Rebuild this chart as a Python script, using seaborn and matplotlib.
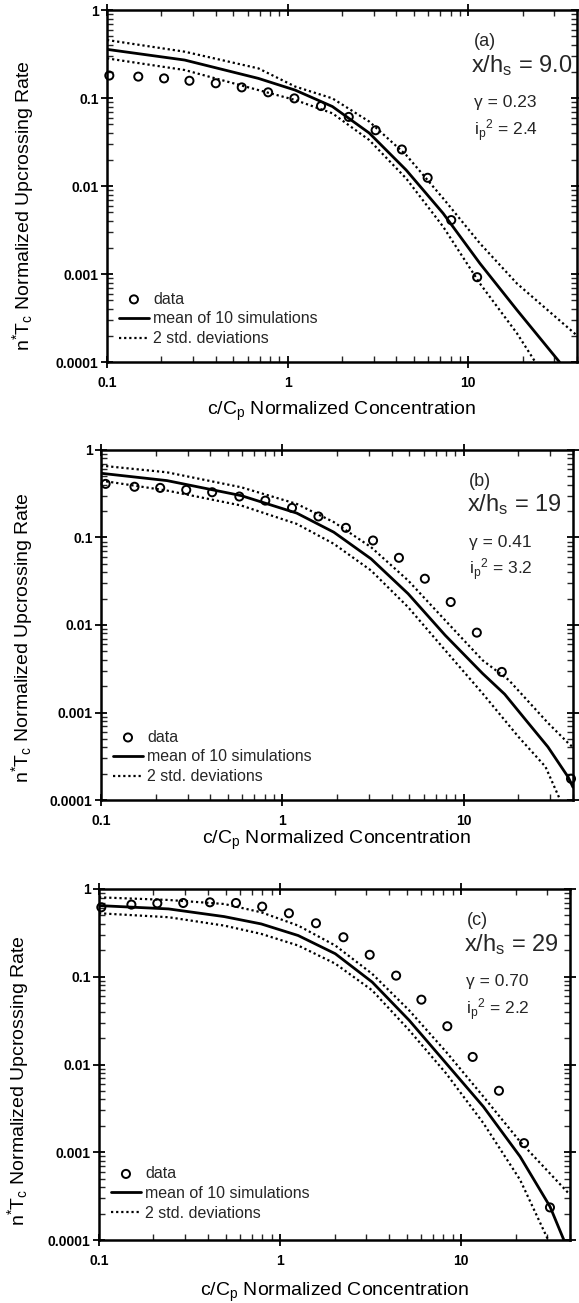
import numpy as np
import pandas as pd
import matplotlib
matplotlib.use("Agg")
import matplotlib.pyplot as plt
import matplotlib.ticker as mticker
import seaborn as sns

sns.set_theme(style="ticks")
plt.rcParams['font.family'] = ['Liberation Sans', 'DejaVu Sans']
plt.rcParams['mathtext.fontset'] = 'custom'
plt.rcParams['mathtext.rm'] = 'Liberation Sans'
plt.rcParams['mathtext.it'] = 'Liberation Sans:italic'
plt.rcParams['mathtext.bf'] = 'Liberation Sans:bold'

# ---------------- data ----------------
# panel (a)
a_data_x = [0.103, 0.149, 0.207, 0.286, 0.40, 0.557, 0.78, 1.09, 1.53, 2.18, 3.07, 4.29, 5.96, 8.05, 11.2]
a_data_y = [0.18, 0.175, 0.167, 0.157, 0.147, 0.132, 0.116, 0.099, 0.081, 0.061, 0.043, 0.026, 0.0124, 0.0041, 0.00092]
a_mean_x = [0.1, 0.269, 0.689, 1.10, 1.77, 2.83, 4.53, 7.26, 11.6, 18.6, 32]
a_mean_y = [0.357, 0.27, 0.167, 0.123, 0.080, 0.040, 0.0152, 0.00489, 0.00132, 0.00039, 0.0001]
a_up_x = [0.1, 0.269, 0.689, 1.10, 1.77, 2.83, 4.53, 7.26, 11.6, 18.6, 40]
a_up_y = [0.456, 0.336, 0.217, 0.135, 0.099, 0.054, 0.0225, 0.00724, 0.00223, 0.00078, 0.0002]
a_lo_x = [0.1, 0.269, 0.689, 1.10, 1.77, 2.83, 4.53, 7.26, 11.6, 18.6, 23.5]
a_lo_y = [0.282, 0.208, 0.123, 0.095, 0.067, 0.0333, 0.0122, 0.00345, 0.00078, 0.000212, 0.0001]

# panel (b)
b_data_x = [0.106, 0.153, 0.212, 0.295, 0.41, 0.579, 0.805, 1.13, 1.58, 2.24, 3.16, 4.39, 6.10, 8.47, 11.8, 16.2, 39]
b_data_y = [0.41, 0.38, 0.369, 0.35, 0.329, 0.294, 0.264, 0.218, 0.174, 0.129, 0.0924, 0.0586, 0.0338, 0.0183, 0.00818, 0.00291, 0.000175]
b_mean_x = [0.1, 0.231, 0.593, 1.20, 1.92, 3.08, 4.93, 7.90, 12.7, 16.8, 22.3, 29.1, 37.6, 40]
b_mean_y = [0.542, 0.447, 0.301, 0.19, 0.115, 0.0571, 0.0228, 0.00762, 0.00279, 0.00162, 0.00079, 0.000404, 0.000183, 0.00014]
b_up_x = [0.1, 0.231, 0.593, 1.20, 1.92, 3.08, 4.93, 7.90, 12.7, 17.7, 29.1, 37.6, 40]
b_up_y = [0.663, 0.556, 0.375, 0.242, 0.15, 0.0776, 0.0323, 0.0113, 0.00395, 0.00235, 0.00076, 0.000448, 0.0004]
b_lo_x = [0.1, 0.231, 0.593, 1.20, 1.92, 3.08, 4.93, 7.90, 12.7, 20.0, 28.2, 34.0]
b_lo_y = [0.447, 0.344, 0.232, 0.143, 0.0847, 0.042, 0.016, 0.00514, 0.00165, 0.000528, 0.00024, 0.0001]

# panel (c)
c_data_x = [0.103, 0.151, 0.21, 0.292, 0.41, 0.571, 0.797, 1.12, 1.58, 2.24, 3.13, 4.38, 6.04, 8.40, 11.6, 16.2, 22.3, 31]
c_data_y = [0.619, 0.664, 0.687, 0.693, 0.705, 0.693, 0.63, 0.529, 0.407, 0.282, 0.178, 0.103, 0.0548, 0.0273, 0.0122, 0.00502, 0.00127, 0.000235]
c_mean_x = [0.1, 0.242, 0.491, 0.787, 1.26, 2.02, 3.23, 5.17, 8.28, 13.3, 21.2, 31, 37]
c_mean_y = [0.647, 0.593, 0.485, 0.40, 0.295, 0.183, 0.087, 0.0319, 0.0103, 0.0033, 0.000893, 0.000241, 0.0001]
c_up_x = [0.1, 0.242, 0.491, 0.787, 1.26, 2.02, 3.23, 5.17, 8.28, 13.3, 21.2, 39.2]
c_up_y = [0.804, 0.75, 0.675, 0.543, 0.383, 0.227, 0.108, 0.0414, 0.0139, 0.0043, 0.00132, 0.000342]
c_lo_x = [0.1, 0.242, 0.491, 0.787, 1.26, 2.02, 3.23, 5.17, 8.28, 13.3, 21.2, 30.3]
c_lo_y = [0.529, 0.477, 0.383, 0.308, 0.227, 0.141, 0.07, 0.0246, 0.0079, 0.00214, 0.000485, 0.0001]

panel_tags = ["(a)", "(b)", "(c)"]
panel_xh = ["x/h$_\\mathrm{s}$ = 9.0", "x/h$_\\mathrm{s}$ = 19", "x/h$_\\mathrm{s}$ = 29"]
panel_gamma = ["\u03b3 = 0.23", "\u03b3 = 0.41", "\u03b3 = 0.70"]
panel_ip = ["i$_\\mathrm{p}$$^\\mathrm{2}$ = 2.4", "i$_\\mathrm{p}$$^\\mathrm{2}$ = 3.2", "i$_\\mathrm{p}$$^\\mathrm{2}$ = 2.2"]

x_ticks = [0.1, 1, 10]
x_tick_labels = ["0.1", "1", "10"]
y_ticks = [0.0001, 0.001, 0.01, 0.1, 1]
y_tick_labels = ["0.0001", "0.001", "0.01", "0.1", "1"]

legend_labels = ["data", "mean of 10 simulations", "2 std. deviations"]
x_label = "c/C$_\\mathrm{p}$ Normalized Concentration"
y_label = "n$^{*}$T$_\\mathrm{c}$ Normalized Upcrossing Rate"

panels = [
    (a_data_x, a_data_y, a_mean_x, a_mean_y, a_up_x, a_up_y, a_lo_x, a_lo_y),
    (b_data_x, b_data_y, b_mean_x, b_mean_y, b_up_x, b_up_y, b_lo_x, b_lo_y),
    (c_data_x, c_data_y, c_mean_x, c_mean_y, c_up_x, c_up_y, c_lo_x, c_lo_y),
]

# ---------------- layout ----------------
W, H = 579, 1303
fig = plt.figure(figsize=(W / 100, H / 100), dpi=100)
boxes = [(107, 10, 470, 352), (101, 450, 472, 350), (99, 889, 471, 351)]  # left, top, w, h px
ylab_x = [-0.150, -0.140, -0.145]
ylab_y = [0.445, 0.465, 0.455]
xlab_pad = [7, 1, 9]
leg_y = [0.045, 0.045, 0.055]

dot_style = (0, (1.0, 1.3))

for i, (dx, dy, mx, my, ux, uy, lx, ly) in enumerate(panels):
    l, t, w, h = boxes[i]
    ax = fig.add_axes([l / W, 1 - (t + h) / H, w / W, h / H])
    ax.set_xscale('log')
    ax.set_yscale('log')

    sns.lineplot(x=mx, y=my, ax=ax, color='black', lw=2.0, label=legend_labels[1])
    sns.lineplot(x=ux, y=uy, ax=ax, color='black', lw=1.6, linestyle=dot_style, label=legend_labels[2])
    sns.lineplot(x=lx, y=ly, ax=ax, color='black', lw=1.6, linestyle=dot_style, label='_nolegend_')
    sns.scatterplot(x=dx, y=dy, ax=ax, marker='o', s=34, facecolor='none', edgecolor='black',
                    linewidth=1.4, label=legend_labels[0], zorder=5, clip_on=False)

    ax.set_xlim(0.1, 40)
    ax.set_ylim(0.0001, 1)
    ax.set_xticks(x_ticks)
    ax.set_xticklabels(x_tick_labels, fontweight='bold')
    ax.set_yticks(y_ticks)
    ax.set_yticklabels(y_tick_labels, fontweight='bold')
    ax.xaxis.set_minor_locator(mticker.LogLocator(base=10, subs=np.arange(2, 10), numticks=20))
    ax.yaxis.set_minor_locator(mticker.LogLocator(base=10, subs=np.arange(2, 10), numticks=20))
    ax.xaxis.set_minor_formatter(mticker.NullFormatter())
    ax.yaxis.set_minor_formatter(mticker.NullFormatter())
    ax.tick_params(which='major', direction='inout', length=8, width=1.3, top=True, right=True,
                   labelsize=10, pad=2, colors='black')
    ax.tick_params(which='minor', direction='in', length=4, width=1.0, top=True, right=True)
    ax.tick_params(axis='x', which='major', pad=6)
    for sp in ax.spines.values():
        sp.set_linewidth(1.8)
        sp.set_color('black')

    ax.set_xlabel(x_label, fontsize=14, labelpad=xlab_pad[i], color='black')
    ax.set_ylabel(y_label, fontsize=14, color='black')
    ax.yaxis.set_label_coords(ylab_x[i], ylab_y[i])

    ax.text(0.78, 0.91, panel_tags[i], transform=ax.transAxes, fontsize=13, ha='left', va='center')
    ax.text(0.775, 0.843, panel_xh[i], transform=ax.transAxes, fontsize=17, ha='left', va='center')
    ax.text(0.78, 0.737, panel_gamma[i], transform=ax.transAxes, fontsize=12.5, ha='left', va='center')
    ax.text(0.78, 0.657, panel_ip[i], transform=ax.transAxes, fontsize=12.5, ha='left', va='center')

    handles, labels = ax.get_legend_handles_labels()
    hmap = dict(zip(labels, handles))
    ax.legend([hmap[k] for k in legend_labels], legend_labels, loc='lower left',
              bbox_to_anchor=(0.025, leg_y[i]), frameon=False, fontsize=11.5,
              handlelength=1.9, handletextpad=0.25, labelspacing=0.3, borderpad=0,
              borderaxespad=0)

fig.savefig("out.png", dpi=100, facecolor='white')
